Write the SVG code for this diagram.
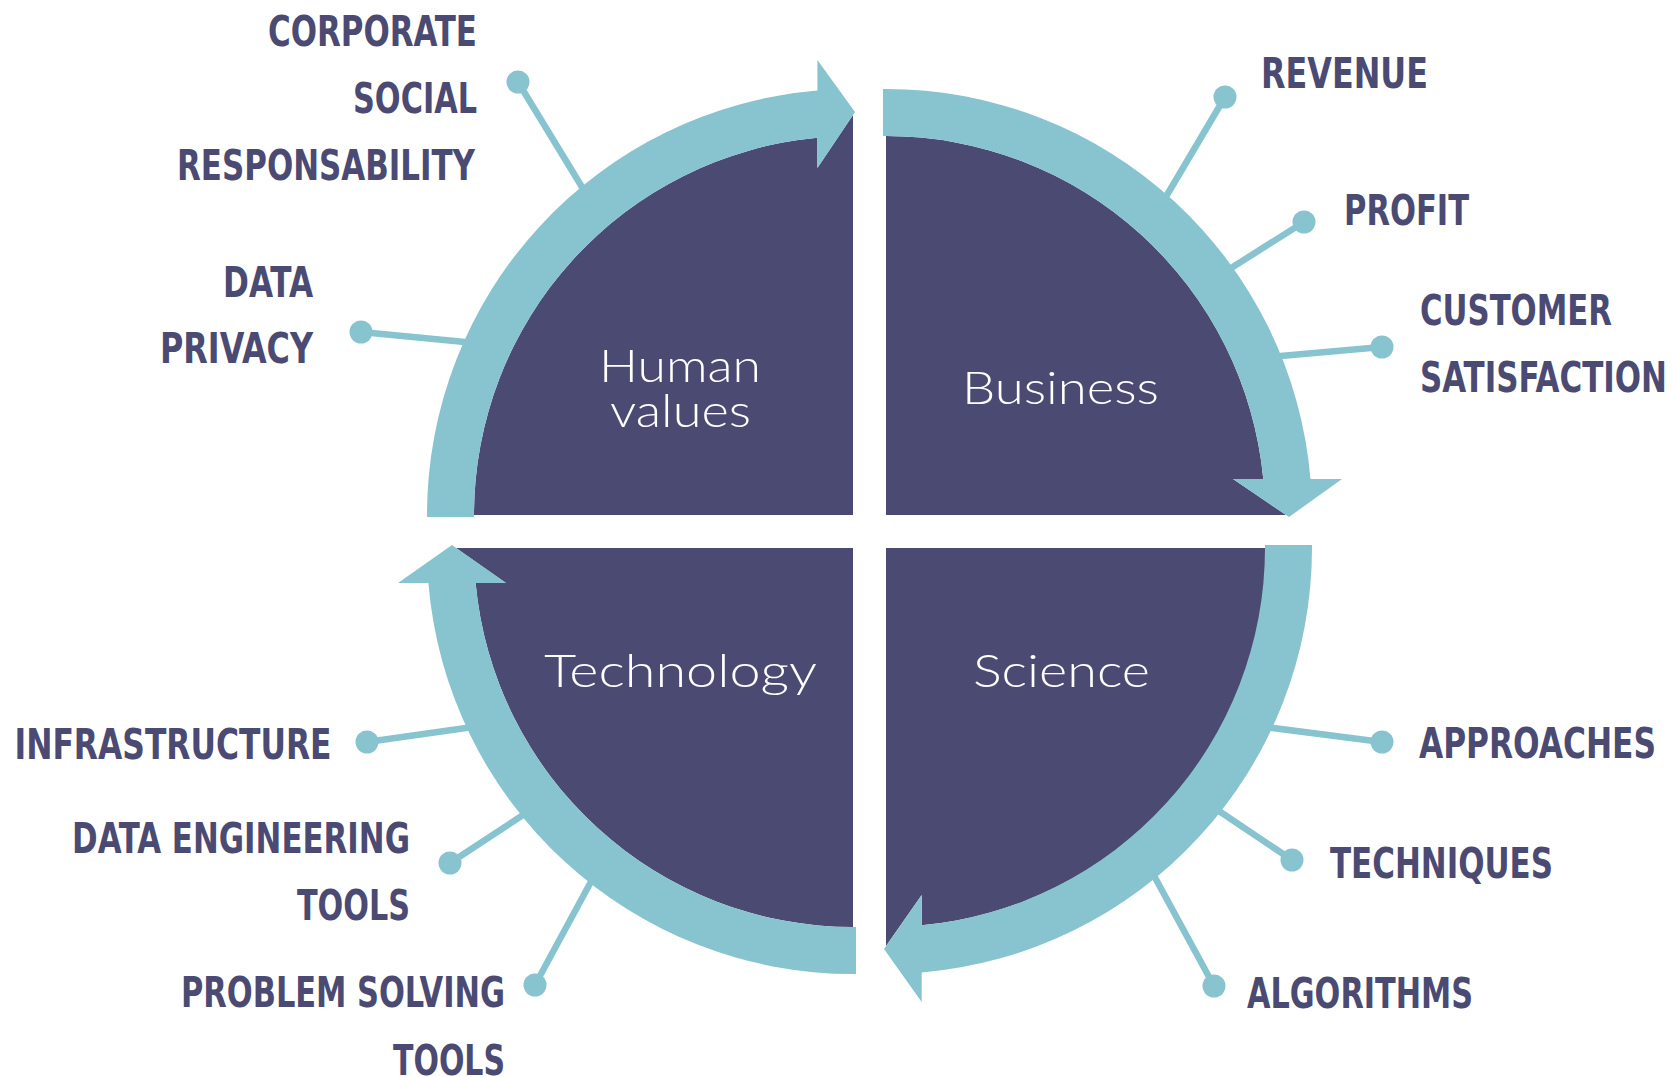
<svg xmlns="http://www.w3.org/2000/svg" width="1672" height="1077" viewBox="0 0 1672 1077">
  <style>
    .quad { fill: #4b4a72; }
    .ring { fill: #88c3d0; }
    .link { stroke: #88c3d0; stroke-width: 6.5; fill: none; stroke-linecap: round; }
    .dot { fill: #88c3d0; }
    .label { font-family: "DejaVu Sans Condensed", "DejaVu Sans", sans-serif; font-weight: bold; font-size: 42px; fill: #4b4a72; }
    .title { font-family: "Lato", "Open Sans", sans-serif; font-weight: 300; font-size: 45px; fill: #ffffff; }
  </style>
  <rect width="1672" height="1077" fill="#ffffff"/>

  <!-- spokes from the ring out to each label dot -->
  <g id="connectors">
    <line class="link" x1="518" y1="82" x2="585" y2="192"/>
    <line class="link" x1="361" y1="332" x2="470" y2="342.5"/>
    <line class="link" x1="1225" y1="97" x2="1164" y2="200"/>
    <line class="link" x1="1304" y1="222" x2="1228" y2="270"/>
    <line class="link" x1="1382" y1="347" x2="1275" y2="356.5"/>
    <line class="link" x1="1382" y1="742" x2="1265" y2="727"/>
    <line class="link" x1="1292" y1="860" x2="1216" y2="809"/>
    <line class="link" x1="1214" y1="986" x2="1152" y2="872"/>
    <line class="link" x1="367" y1="742" x2="473" y2="727"/>
    <line class="link" x1="450" y1="863" x2="526" y2="813"/>
    <line class="link" x1="535" y1="985" x2="593" y2="878"/>
  </g>

  <!-- top-left quadrant -->
  <g id="human-values">
    <path class="quad" d="M853,515 L474,515 A379,379 0 0 1 817.4,137.7 L817.4,168 L853,115 Z"/>
    <path class="ring" d="M427,517 L427,515 A426,426 0 0 1 817.4,90.5 L817.4,60 L855,112 L817.4,168 L817.4,137.7 A379,379 0 0 0 474,515 L474,517 Z"/>
    <text class="title" x="599" y="382" textLength="162" lengthAdjust="spacingAndGlyphs">Human</text>
    <text class="title" x="610" y="427" textLength="141" lengthAdjust="spacingAndGlyphs">values</text>
  </g>

  <!-- top-right quadrant -->
  <g id="business">
    <path class="quad" d="M886,515 L886,136 A379,379 0 0 1 1263.3,479 L1233,479 L1286,515 Z"/>
    <path class="ring" d="M883,89 L886,89 A426,426 0 0 1 1310.5,479 L1342,479 L1289,517 L1233,479 L1263.3,479 A379,379 0 0 0 886,136 L883,136 Z"/>
    <text class="title" x="962" y="404" textLength="197" lengthAdjust="spacingAndGlyphs">Business</text>
  </g>

  <!-- bottom-right quadrant -->
  <g id="science">
    <path class="quad" d="M886,548 L1266,548 A379,379 0 0 1 921.7,925.3 L921.7,895 L886,946 Z"/>
    <path class="ring" d="M1312,545 L1312,548 A426,426 0 0 1 921.7,972.5 L921.7,1002 L884,949 L921.7,895 L921.7,925.3 A379,379 0 0 0 1265,548 L1265,545 Z"/>
    <text class="title" x="973" y="687" textLength="177" lengthAdjust="spacingAndGlyphs">Science</text>
  </g>

  <!-- bottom-left quadrant -->
  <g id="technology">
    <path class="quad" d="M853,548 L853,927 A379,379 0 0 1 475.6,583 L506,583 L456,548 Z"/>
    <path class="ring" d="M856,974 L853,974 A426,426 0 0 1 428.4,583 L398,583 L452,545 L506,583 L475.6,583 A379,379 0 0 0 853,927 L856,927 Z"/>
    <text class="title" x="544" y="687" textLength="273" lengthAdjust="spacingAndGlyphs">Technology</text>
  </g>

  <!-- outer labels with their dots -->
  <g id="label-csr">
    <circle class="dot" cx="518" cy="82" r="11.5"/>
    <text class="label" x="268" y="46" textLength="209" lengthAdjust="spacingAndGlyphs">CORPORATE</text>
    <text class="label" x="353" y="113" textLength="124" lengthAdjust="spacingAndGlyphs">SOCIAL</text>
    <text class="label" x="177" y="180" textLength="298" lengthAdjust="spacingAndGlyphs">RESPONSABILITY</text>
  </g>
  <g id="label-data-privacy">
    <circle class="dot" cx="361" cy="332" r="11.5"/>
    <text class="label" x="223" y="297" textLength="90" lengthAdjust="spacingAndGlyphs">DATA</text>
    <text class="label" x="160" y="363" textLength="153" lengthAdjust="spacingAndGlyphs">PRIVACY</text>
  </g>
  <g id="label-revenue">
    <circle class="dot" cx="1225" cy="97" r="11.5"/>
    <text class="label" x="1261" y="88" textLength="167" lengthAdjust="spacingAndGlyphs">REVENUE</text>
  </g>
  <g id="label-profit">
    <circle class="dot" cx="1304" cy="222" r="11.5"/>
    <text class="label" x="1344" y="225" textLength="125" lengthAdjust="spacingAndGlyphs">PROFIT</text>
  </g>
  <g id="label-customer-satisfaction">
    <circle class="dot" cx="1382" cy="347" r="11.5"/>
    <text class="label" x="1420" y="325" textLength="192" lengthAdjust="spacingAndGlyphs">CUSTOMER</text>
    <text class="label" x="1420" y="392" textLength="247" lengthAdjust="spacingAndGlyphs">SATISFACTION</text>
  </g>
  <g id="label-approaches">
    <circle class="dot" cx="1382" cy="742" r="11.5"/>
    <text class="label" x="1419" y="758" textLength="237" lengthAdjust="spacingAndGlyphs">APPROACHES</text>
  </g>
  <g id="label-techniques">
    <circle class="dot" cx="1292" cy="860" r="11.5"/>
    <text class="label" x="1330" y="878" textLength="223" lengthAdjust="spacingAndGlyphs">TECHNIQUES</text>
  </g>
  <g id="label-algorithms">
    <circle class="dot" cx="1214" cy="986" r="11.5"/>
    <text class="label" x="1247" y="1008" textLength="226" lengthAdjust="spacingAndGlyphs">ALGORITHMS</text>
  </g>
  <g id="label-infrastructure">
    <circle class="dot" cx="367" cy="742" r="11.5"/>
    <text class="label" x="14.5" y="759" textLength="317" lengthAdjust="spacingAndGlyphs">INFRASTRUCTURE</text>
  </g>
  <g id="label-data-engineering">
    <circle class="dot" cx="450" cy="863" r="11.5"/>
    <text class="label" x="72" y="853" textLength="338" lengthAdjust="spacingAndGlyphs">DATA ENGINEERING</text>
    <text class="label" x="297" y="920" textLength="113" lengthAdjust="spacingAndGlyphs">TOOLS</text>
  </g>
  <g id="label-problem-solving">
    <circle class="dot" cx="535" cy="985" r="11.5"/>
    <text class="label" x="181" y="1007" textLength="324" lengthAdjust="spacingAndGlyphs">PROBLEM SOLVING</text>
    <text class="label" x="393" y="1075" textLength="112" lengthAdjust="spacingAndGlyphs">TOOLS</text>
  </g>
</svg>
